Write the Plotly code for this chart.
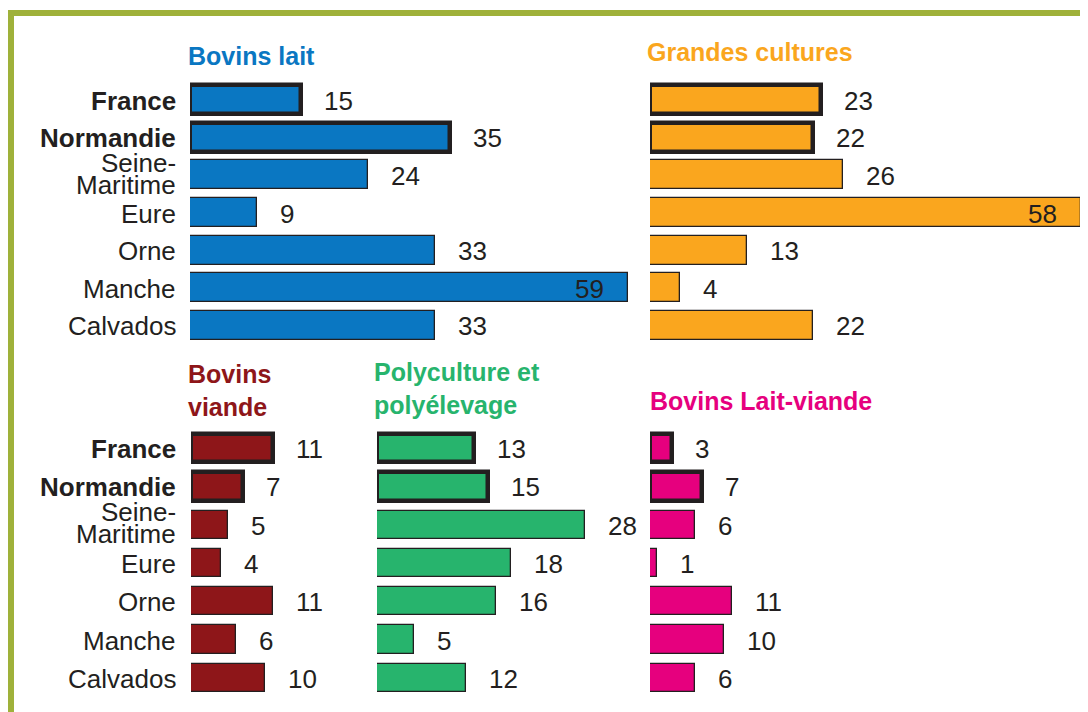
import plotly.graph_objects as go

# ---------------- data ----------------
categories = ["France", "Normandie", "Seine-Maritime", "Eure", "Orne", "Manche", "Calvados"]
bovins_lait = [15, 35, 24, 9, 33, 59, 33]
grandes_cultures = [23, 22, 26, 58, 13, 4, 22]
bovins_viande = [11, 7, 5, 4, 11, 6, 10]
polyculture = [13, 15, 28, 18, 16, 5, 12]
lait_viande = [3, 7, 6, 1, 11, 10, 6]
highlighted = ["France", "Normandie"]

# ---------------- layout helpers ----------------
OFF = 8                      # default page body margin
W, H = 1088 - OFF, 712 - OFF
S = 7.43                     # pixels per unit
FONT = "Liberation Sans, Arial, sans-serif"
TXT = "#231F20"


def fx(p):
    return (p - OFF) / W


def fy(p):
    return 1 - (p - OFF) / H


groups = {"top": (81, 344), "bottom": (429, 697)}
bar_w = {"top": 0.77, "bottom": 0.74}

panels = [
    dict(title="Bovins lait", vals=bovins_lait, color="#0A77C2", x0=190, xmax=60,
         group="top", tx=186, ty=56),
    dict(title="Grandes cultures", vals=grandes_cultures, color="#FAA61E", x0=650, xmax=58.9,
         group="top", tx=645, ty=52),
    dict(title="Bovins<br>viande", vals=bovins_viande, color="#8E1619", x0=191, xmax=20,
         group="bottom", tx=186, ty=390),
    dict(title="Polyculture et<br>polyélevage", vals=polyculture, color="#27B46D", x0=377, xmax=30,
         group="bottom", tx=372, ty=389),
    dict(title="Bovins Lait-viande", vals=lait_viande, color="#E6007E", x0=650, xmax=20,
         group="bottom", tx=648, ty=401),
]

fig = go.Figure()
annotations = []
layout_axes = {}

for i, p in enumerate(panels, start=1):
    sfx = "" if i == 1 else str(i)
    xa, ya = "x" + sfx, "y" + sfx
    g0, g1 = groups[p["group"]]
    lw = [4.5 if c in highlighted else 1.3 for c in categories]
    fig.add_trace(go.Bar(
        y=categories, x=p["vals"], orientation="h", xaxis=xa, yaxis=ya,
        width=bar_w[p["group"]],
        marker=dict(color=p["color"], line=dict(color=TXT, width=lw)),
        hoverinfo="skip", showlegend=False,
    ))
    layout_axes["xaxis" + sfx] = dict(
        domain=[fx(p["x0"]), min(1, fx(p["x0"] + p["xmax"] * S))],
        range=[0, p["xmax"]], visible=False, anchor=ya, fixedrange=True)
    layout_axes["yaxis" + sfx] = dict(
        domain=[fy(g1), fy(g0)], type="category", categoryorder="array",
        categoryarray=categories, range=[6.5, -0.5], visible=False, anchor=xa,
        fixedrange=True)
    # value labels
    for c, v in zip(categories, p["vals"]):
        inside = v >= 50
        annotations.append(dict(
            x=v, y=c, xref=xa, yref=ya, text=str(v), showarrow=False,
            xanchor="right" if inside else "left", xshift=-22 if inside else 21,
            yshift=-1, font=dict(family=FONT, size=26, color=TXT)))
    # panel title
    annotations.append(dict(
        x=fx(p["tx"]), y=fy(p["ty"]), xref="paper", yref="paper", text="<b>%s</b>" % p["title"],
        showarrow=False, xanchor="left", yanchor="middle", align="left",
        font=dict(family=FONT, size=25, color=p["color"])))

# category labels for the two groups of rows
for yref in ["y", "y3"]:
    bottom = yref == "y3"
    for c in categories:
        bold = c in highlighted
        if "-" in c:
            a, b = c.split("-", 1)
            parts = [(a + "-", 12 if not bottom else 13), (b, -10 if not bottom else -9)]
        else:
            parts = [(c, -1)]
        for txt, ys in parts:
            annotations.append(dict(
                x=fx(178), y=c, xref="paper", yref=yref,
                text="<b>%s</b>" % txt if bold else txt, showarrow=False,
                xanchor="right", yanchor="middle", yshift=ys,
                font=dict(family=FONT, size=26, color=TXT)))

border = "#9FB13A"
shapes = [
    dict(type="line", xref="paper", yref="paper", x0=fx(8), x1=1.01, y0=fy(13), y1=fy(13),
         line=dict(color=border, width=6)),
    dict(type="line", xref="paper", yref="paper", x0=fx(11), x1=fx(11), y0=fy(10), y1=-0.01,
         line=dict(color=border, width=6)),
]

fig.update_layout(
    width=W, height=H, margin=dict(l=0, r=0, t=0, b=0),
    paper_bgcolor="white", plot_bgcolor="rgba(0,0,0,0)",
    annotations=annotations, shapes=shapes, bargap=0,
    **layout_axes,
)

fig.write_html("out.html")
